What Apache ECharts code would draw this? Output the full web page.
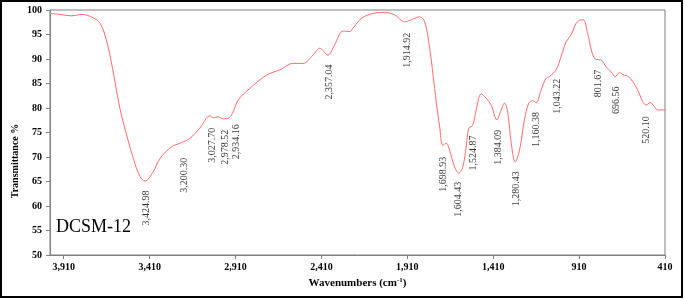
<!DOCTYPE html>
<html>
<head>
<meta charset="utf-8">
<script src="https://cdn.jsdelivr.net/npm/echarts@6/dist/echarts.min.js"></script>
<style>
html,body{margin:0;padding:0;background:#fff;}
#chart{width:685px;height:300px;}
</style>
</head>
<body>
<div id="chart"></div>
<script>
// Spectrum (wavenumber cm-1, transmittance %)
const wavenumbers = [3990,3932,3864,3805,3738,3699,3670,3641,3612,3583,3544,3505,3466,3437,3389,3350,3282,3234,3176,3118,3059,3040,3011,2982,2947,2924,2895,2827,2730,2652,2575,2517,2459,2420,2372,2333,2284,2245,2226,2177,2110,2042,1984,1926,1887,1839,1809,1780,1751,1741,1722,1703,1683,1664,1635,1610,1587,1567,1552,1529,1509,1480,1451,1422,1389,1364,1344,1325,1305,1282,1257,1228,1203,1180,1160,1131,1102,1083,1044,1015,986,957,927,898,885,860,834,811,782,753,724,699,676,647,627,598,569,540,520,497,472,453,410];
const transmittance = [99.3,99.1,98.8,99.1,98.4,97.3,94.9,90.8,85.4,79.9,74.5,69.7,66.0,65.1,67.0,69.7,72.1,72.8,73.8,75.9,78.4,78.0,78.2,77.8,78.0,79.2,81.6,84.0,86.7,87.8,89.1,89.1,90.8,92.2,90.8,92.9,95.7,95.6,96.3,98.3,99.3,99.5,99.0,97.6,98.0,98.6,97.6,92.2,84.0,81.0,76.2,72.4,72.8,71.4,68.0,66.7,68.0,72.1,75.9,76.5,79.6,82.9,82.0,80.6,77.6,79.6,81.0,78.9,72.8,69.0,71.4,77.6,81.0,81.5,81.1,83.7,86.1,86.4,87.8,90.5,93.5,94.9,97.3,98.0,98.0,95.2,91.2,89.9,89.8,88.4,87.4,86.4,87.2,86.7,86.5,85.4,83.7,81.3,80.6,81.1,80.3,79.6,79.6];

// Peak annotations: peak value, and where its label sits (data coordinates)
const peakValues = [3424.98,3200.30,3027.70,2978.52,2934.16,2357.04,1914.92,1698.93,1604.43,1524.87,1384.09,1280.43,1160.38,1043.22,801.67,696.56,520.10];
const peakLabelWn = [3427,3205,3042,2972,2906,2362,1910,1699,1610,1524,1379,1276,1160,1034,796,695,517];
const peakLabelT = [59.6,66.3,72.4,72.0,73.1,85.3,91.8,66.5,61.4,70.8,72.0,63.5,75.6,82.4,85.0,81.6,75.5];

const xTicks = [3910,3410,2910,2410,1910,1410,910,410];
const yTicks = [50,55,60,65,70,75,80,85,90,95,100];
const sampleName = 'DCSM-12';

const fmt = v => v.toLocaleString('en-US');
const fmt2 = v => v.toLocaleString('en-US',{minimumFractionDigits:2,maximumFractionDigits:2});

const chart = echarts.init(document.getElementById('chart'), null, {renderer:'canvas'});
const serif = 'Liberation Serif';
const axisGray = '#7f7f7f';

chart.setOption({
  animation:false,
  backgroundColor:'#fff',
  grid:{left:50,right:20,top:10,bottom:45,show:true,borderColor:axisGray,borderWidth:1,containLabel:false},
  xAxis:{
    type:'value', inverse:true, min:410, max:3990,
    name:'{a|Wavenumbers (cm}{s|-1}{a|)}', nameLocation:'middle', nameGap:21,
    nameTextStyle:{rich:{
      a:{fontFamily:serif,fontWeight:'bold',fontSize:11,color:'#000'},
      s:{fontFamily:serif,fontWeight:'bold',fontSize:7,color:'#000',padding:[0,0,6,0]}
    }},
    axisLine:{lineStyle:{color:axisGray}},
    axisTick:{customValues:xTicks,length:4,lineStyle:{color:axisGray}},
    axisLabel:{customValues:xTicks,formatter:fmt,fontFamily:serif,fontWeight:'bold',fontSize:10,color:'#000',margin:7},
    splitLine:{show:false}
  },
  yAxis:{
    type:'value', min:yTicks[0], max:yTicks[yTicks.length-1], interval:5,
    axisLine:{show:true,lineStyle:{color:axisGray}},
    axisTick:{show:true,length:4,lineStyle:{color:axisGray}},
    axisLabel:{fontFamily:serif,fontWeight:'bold',fontSize:10,color:'#000',margin:8},
    splitLine:{show:false}
  },
  graphic:[
    {type:'rect',shape:{x:1,y:1,width:681,height:296},style:{fill:'none',stroke:'#000',lineWidth:2},silent:true,z:100},
    {type:'text',x:15,y:161,rotation:Math.PI/2,style:{text:'Transmittance %',font:'bold 10px "Liberation Serif"',fill:'#000',align:'center',verticalAlign:'middle'}},
    {type:'text',x:56,y:227,style:{text:sampleName,font:'18px "Liberation Serif"',fill:'#000',align:'left',verticalAlign:'middle'}}
  ],
  series:[
    {
      type:'line', data:wavenumbers.map((w,i)=>[w,transmittance[i]]),
      smooth:0.35, showSymbol:false, symbol:'none',
      lineStyle:{color:'#ff6b6b',width:1}
    },
    {
      type:'scatter', symbolSize:0,
      data:peakValues.map((p,i)=>({name:fmt2(p),value:[peakLabelWn[i],peakLabelT[i]]})),
      label:{show:true,position:'inside',rotate:90,align:'center',verticalAlign:'middle',
        formatter:p=>p.name,fontFamily:serif,fontSize:10,color:'#000'},
      emphasis:{disabled:true}
    }
  ]
});
</script>
</body>
</html>
